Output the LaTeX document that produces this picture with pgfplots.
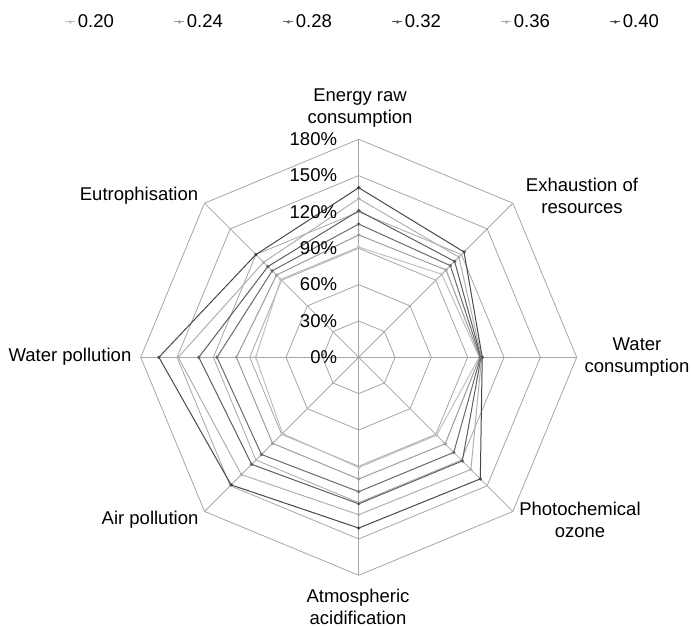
\documentclass[border=0pt]{standalone}
\usepackage{pgfplots}
\pgfplotsset{compat=1.18}
\usepackage{fontspec}
\setmainfont{Liberation Sans}
\definecolor{gridc}{HTML}{A6A6A6}
\definecolor{cA}{HTML}{C0C0C0}
\definecolor{cB}{HTML}{9C9C9C}
\definecolor{cC}{HTML}{6A6A6A}
\definecolor{cD}{HTML}{5E5E5E}
\definecolor{cE}{HTML}{B0B0B0}
\definecolor{cF}{HTML}{484848}
\newcommand{\fs}{\fontsize{18.5bp}{22bp}\selectfont}
\begin{document}
\begin{tikzpicture}
\begin{axis}[
  scale only axis, width=691bp, height=626bp,
  xmin=-296.18, xmax=274.38, ymin=-221.87, ymax=295.02,
  axis lines=none, clip=false,
  legend columns=6,
  legend style={draw=none, fill=none, at={(axis cs:3.5,276.9)}, anchor=center,
    font=\fs, inner sep=0pt,
    /tikz/every even column/.append style={column sep=58bp}},
  legend image code/.code={\draw[mark repeat=2,mark phase=2,#1] plot coordinates {(-5bp,0) (0bp,0) (5bp,0)};},
  every axis plot/.append style={line width=1bp, mark=*, mark size=1.1bp},
]
\path (rel axis cs:0,0) rectangle (rel axis cs:1,1);
% grid
\pgfplotsforeachungrouped \r in {30,60,90,120,150,180}{
  \addplot[forget plot, gridc, line width=0.8bp, no marks, data cs=polar]
    coordinates {(90,\r)(45,\r)(0,\r)(-45,\r)(-90,\r)(-135,\r)(180,\r)(135,\r)(90,\r)};
}
\pgfplotsforeachungrouped \a in {90,45,0,-45,-90,-135,180,135}{
  \addplot[forget plot, gridc, line width=0.8bp, no marks, data cs=polar]
    coordinates {(\a,0)(\a,180)};
}
% series: Energy, Exhaustion, Water cons., Photochem., Atmospheric, Air, Water poll., Eutroph.
\addplot[cA, mark options={fill=cA,draw=cA}, data cs=polar] coordinates {(90,91)(45,97)(0,99.5)(-45,91)(-90,91)(-135,89)(180,85)(135,91)(90,91)};
\addlegendentry{0.20}
\addplot[cB, mark options={fill=cB,draw=cB}, data cs=polar] coordinates {(90,101)(45,102)(0,100)(-45,101)(-90,100.5)(-135,100.5)(180,101)(135,96)(90,101)};
\addlegendentry{0.24}
\addplot[cC, mark options={fill=cC,draw=cC}, data cs=polar] coordinates {(90,110)(45,107)(0,100.5)(-45,111)(-90,111)(-135,113.5)(180,117)(135,101)(90,110)};
\addlegendentry{0.28}
\addplot[cD, mark options={fill=cD,draw=cD}, data cs=polar] coordinates {(90,121)(45,112)(0,101)(-45,121)(-90,121)(-135,125)(180,132)(135,106)(90,121)};
\addlegendentry{0.32}
\addplot[cE, mark options={fill=cE,draw=cE}, data cs=polar] coordinates {(90,131)(45,117)(0,101.5)(-45,131)(-90,130)(-135,137)(180,149)(135,111)(90,131)};
\addlegendentry{0.36}
\addplot[cF, mark options={fill=cF,draw=cF}, data cs=polar] coordinates {(90,140)(45,123)(0,102)(-45,142)(-90,141)(-135,149)(180,165)(135,120)(90,140)};
\addlegendentry{0.40}
% tick labels
\pgfplotsforeachungrouped \r in {0,30,60,90,120,150,180}{
  \edef\tmp{\noexpand\node[anchor=east, inner sep=0pt, font=\noexpand\fs] at (axis cs:-17.75,\r) {\r\noexpand\%};}
  \tmp
}
% category labels
\begin{scope}[every node/.style={font=\fs, align=center, inner sep=0pt}]
\node at (axis cs:1.1,205.8) {Energy raw\\consumption};
\node at (axis cs:184.4,133.2) {Exhaustion of\\resources};
\node at (axis cs:229.8,0.2) {Water\\consumption};
\node at (axis cs:182.7,-134.3) {Photochemical\\ozone};
\node at (axis cs:-0.6,-205.8) {Atmospheric\\acidification};
\node at (axis cs:-172.3,-134.3) {Air pollution};
\node at (axis cs:-238.4,0.2) {Water pollution};
\node at (axis cs:-181.4,133.2) {Eutrophisation};
\end{scope}
\end{axis}
\end{tikzpicture}
\end{document}
